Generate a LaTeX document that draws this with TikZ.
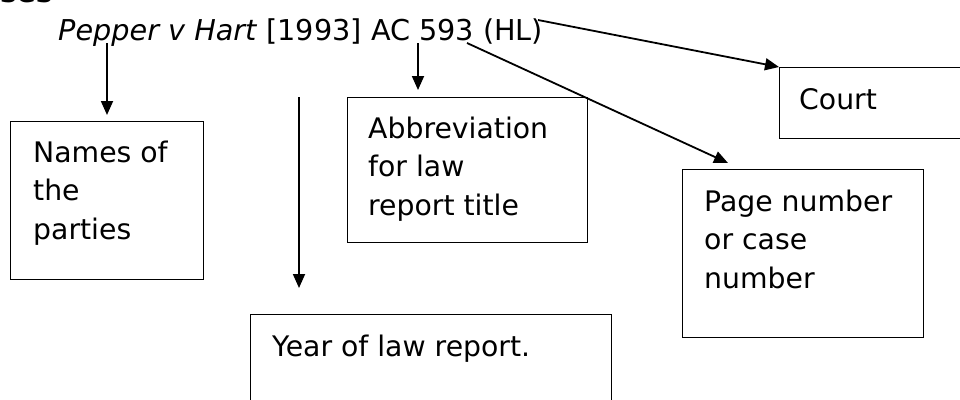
\documentclass[tikz,border=0pt]{standalone}
\usepackage{fontspec}
\setmainfont{DejaVu Sans}
\usetikzlibrary{arrows.meta}
\begin{document}
\begin{tikzpicture}[x=1pt,y=-1pt,
  box/.style={draw, line width=1.3pt, inner sep=0pt, anchor=north west},
  lbl/.style={anchor=north west, inner sep=0pt, align=left, font=\fontsize{28.3}{38.5}\selectfont},
  arr/.style={line width=1.8pt, -{Triangle[length=14pt,width=12pt]}}]
\clip (0,0) rectangle (960,399);
% header fragment and citation
\node[anchor=base west, inner sep=0pt, font=\fontsize{28}{34}\selectfont\bfseries] (hdr) at (0,2) {ses};
\node[anchor=base west, inner sep=0pt, font=\fontsize{28.7}{34}\selectfont] (cite) at (58,40) {\textit{Pepper v Hart} [1993] AC 593 (HL)};
% boxes
\node[box, minimum width=193pt, minimum height=158pt] (names) at (10,121) {};
\node[box, minimum width=240pt, minimum height=145pt] (abbr) at (347,97) {};
\node[box, minimum width=200pt, minimum height=71pt] (court) at (779,67) {};
\node[box, minimum width=241pt, minimum height=168pt] (page) at (682,169) {};
\node[box, minimum width=361pt, minimum height=120pt] (year) at (250,314) {};
% labels
\node[lbl] (namesT) at (33,135) {\strut Names of\\the\\parties};
\node[lbl] (abbrT) at (368,111) {\strut Abbreviation\\for law\\report title};
\node[lbl] (courtT) at (799,82) {\strut Court};
\node[lbl] (pageT) at (704,184) {\strut Page number\\or case\\number};
\node[lbl] (yearT) at (272,329) {\strut Year of law report.};
% connector start points
\coordinate (s1) at (107,43);
\coordinate (s2) at (299,97);
\coordinate (s3) at (418,43);
\coordinate (s4) at (538,20);
\coordinate (s5) at (467,43);
\coordinate (e5) at (728,163);
% connectors
\draw[arr, shorten >=6pt] (s1) -- (s1 |- names.north);
\draw[arr, shorten >=26pt] (s2) -- (s2 |- year.north);
\draw[arr, shorten >=7pt] (s3) -- (s3 |- abbr.north);
\draw[arr] (s4) -- (court.north west);
\draw[arr] (s5) -- (e5);
\end{tikzpicture}
\end{document}
